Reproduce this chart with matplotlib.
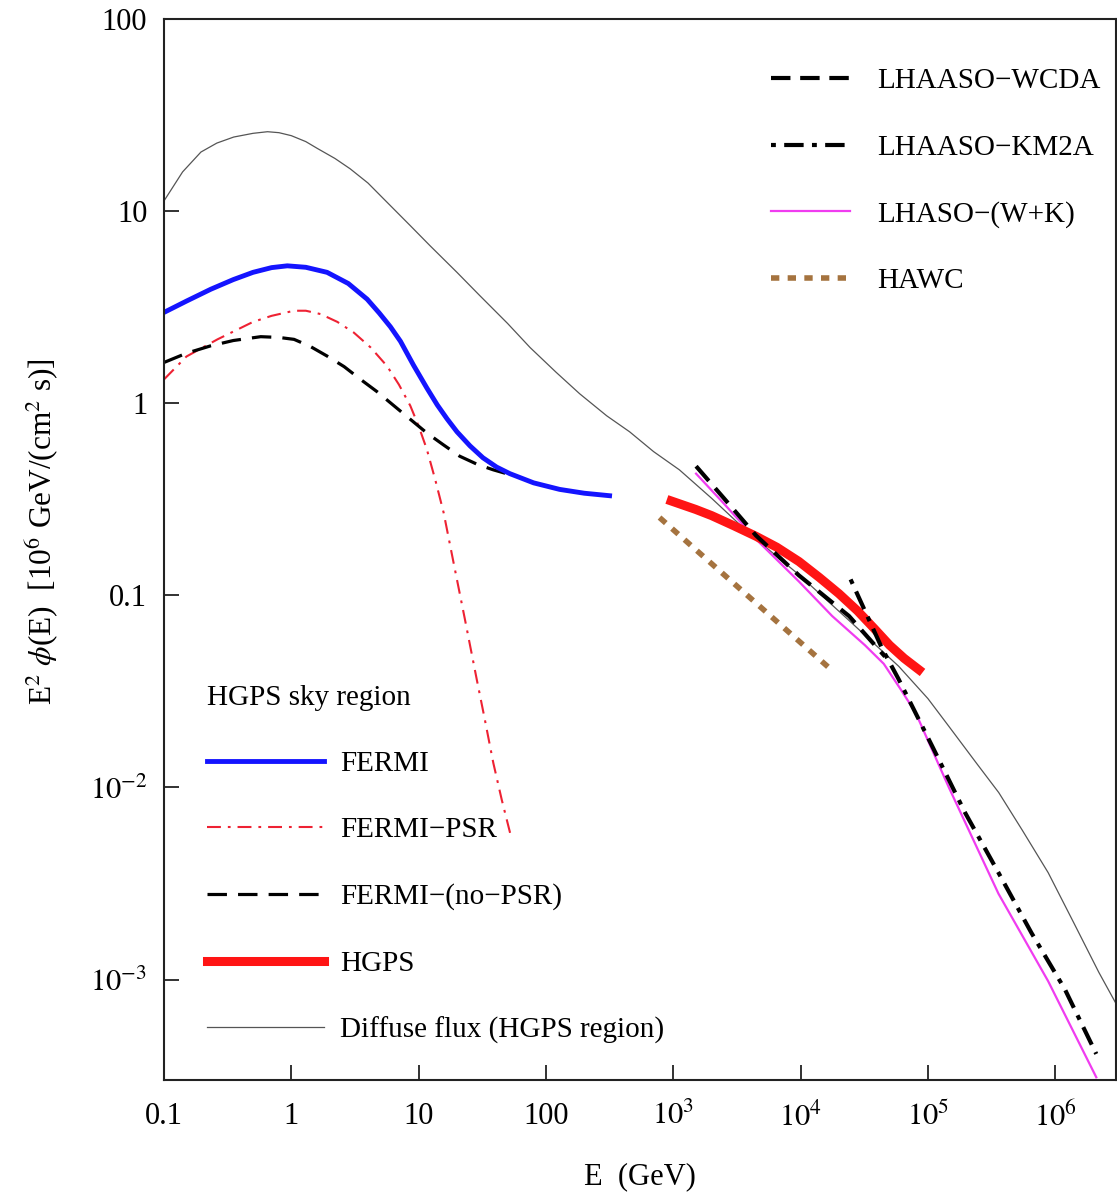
import matplotlib
matplotlib.use('Agg')
import matplotlib.pyplot as plt
from matplotlib.ticker import FixedLocator, FixedFormatter, NullLocator

plt.rcParams['font.family'] = ['Liberation Serif', 'DejaVu Serif']
plt.rcParams['mathtext.fontset'] = 'stix'
plt.rcParams['lines.scale_dashes'] = False

# ---------------- data (E in GeV, E^2 phi in 1e6 GeV/(cm^2 s)) ----------------
E_diffuse = [0.1, 0.14, 0.195, 0.26, 0.353, 0.5, 0.65, 0.8, 1.0, 1.3, 1.6, 2.2, 2.9,
             4.0, 5.3, 8.6, 12.3, 20, 30, 50, 75, 120, 184, 300, 454, 700, 1117,
             2000, 3950, 9700, 2.4e4, 5.9e4, 1.0e5, 1.46e5, 2.4e5, 3.6e5, 5.5e5,
             8.8e5, 1.4e6, 2.2e6, 3.0e6]
F_diffuse = [11.3, 16.0, 20.3, 22.6, 24.3, 25.4, 25.9, 25.6, 24.7, 23.0, 21.2, 18.8, 16.6,
             14.0, 11.6, 8.4, 6.6, 4.8, 3.65, 2.6, 1.95, 1.45, 1.12, 0.86, 0.71, 0.56, 0.45,
             0.32, 0.21, 0.128, 0.074, 0.0427, 0.029, 0.0208, 0.0134, 0.0094, 0.0060,
             0.0036, 0.00197, 0.00109, 0.00075]

E_fermi = [0.1, 0.15, 0.233, 0.35, 0.5, 0.7, 0.93, 1.3, 1.91, 2.8, 3.94, 4.9, 6.0, 7.2,
           9.1, 11.6, 14, 16.7, 20, 25.3, 32, 41, 52, 80, 128, 200, 316]
F_fermi = [2.97, 3.4, 3.92, 4.4, 4.8, 5.08, 5.19, 5.1, 4.8, 4.2, 3.48, 2.95, 2.5, 2.1,
           1.58, 1.2, 0.98, 0.83, 0.71, 0.60, 0.52, 0.465, 0.43, 0.385, 0.356, 0.34, 0.33]

E_psr = [0.1, 0.15, 0.263, 0.5, 0.7, 1.05, 1.3, 1.7, 2.3, 3.1, 4.2, 5.65, 7.0, 8.6, 10,
         11.6, 13.5, 15.7, 18.8, 23, 28.6, 33, 38.6, 45, 53.7]
F_psr = [1.33, 1.75, 2.15, 2.65, 2.85, 3.03, 3.03, 2.91, 2.65, 2.33, 1.95, 1.56, 1.25, 0.97,
         0.76, 0.575, 0.40, 0.27, 0.148, 0.076, 0.0365, 0.0228, 0.0134, 0.0086, 0.0054]

E_nopsr = [0.1, 0.15, 0.233, 0.35, 0.575, 0.8, 1.05, 1.4, 1.91, 2.6, 3.5, 4.7, 6.4, 8.5,
           11.6, 15.5, 21, 29, 38.6, 49]
F_nopsr = [1.63, 1.82, 1.99, 2.12, 2.22, 2.2, 2.15, 1.98, 1.76, 1.55, 1.33, 1.15, 0.97, 0.83,
           0.70, 0.61, 0.53, 0.48, 0.45, 0.43]

E_hgps = [962, 1500, 2000, 3000, 4460, 6500, 9700, 1.4e4, 2.0e4, 2.8e4, 3.8e4, 5.0e4,
          6.5e4, 8.5e4]
F_hgps = [0.31, 0.28, 0.26, 0.23, 0.203, 0.178, 0.150, 0.124, 0.102, 0.083, 0.067, 0.055,
          0.047, 0.041]

E_wcda = [1510, 2500, 4460, 9700, 2.4e4, 4.6e4]
F_wcda = [0.47, 0.32, 0.205, 0.127, 0.078, 0.048]

E_km2a = [2.47e4, 4.4e4, 5.9e4, 1.08e5, 1.96e5, 3.58e5, 6.5e5, 1.19e6, 2.1e6]
F_km2a = [0.121, 0.0523, 0.0365, 0.0164, 0.00738, 0.0036, 0.00175, 0.00089, 0.00041]

E_wk = [1510, 2500, 4460, 9700, 1.77e4, 3.2e4, 4.5e4, 6.0e4, 8.0e4, 1.46e5, 3.58e5, 8.8e5, 2.1e6]
F_wk = [0.43, 0.30, 0.196, 0.118, 0.078, 0.055, 0.044, 0.033, 0.0245, 0.0100, 0.0028, 0.00098, 0.00031]

E_hawc = [780, 1.67e4]
F_hawc = [0.254, 0.042]

x_ticks = [0.1, 1, 10, 100, 1e3, 1e4, 1e5, 1e6]
x_ticklabels = ['0.1', '1', '10', '100', r'$10^3$', r'$10^4$', r'$10^5$', r'$10^6$']
y_ticks = [1e-3, 1e-2, 0.1, 1, 10, 100]
y_ticklabels = [r'$10^{-3}$', r'$10^{-2}$', '0.1', '1', '10', '100']

# ---------------- figure ----------------
W, H = 1117, 1196
fig = plt.figure(figsize=(W / 100, H / 100), dpi=100)
ax = fig.add_axes([164 / W, 1 - 1080 / H, (1116 - 164) / W, (1080 - 19) / H])
ax.set_xscale('log')
ax.set_yscale('log')
ax.set_xlim(0.1, 3.0e6)
ax.set_ylim(3.0e-4, 100)

l_diff, = ax.plot(E_diffuse, F_diffuse, color='#555555', lw=0.9,
                  label='Diffuse flux (HGPS region)')
l_psr, = ax.plot(E_psr, F_psr, color='#ee2233', lw=1.5, ls=(0, (10, 5, 2, 5)),
                 label='FERMI\u2212PSR')
l_nopsr, = ax.plot(E_nopsr, F_nopsr, color='black', lw=2.3, ls=(0, (14, 8)),
                   label='FERMI\u2212(no\u2212PSR)')
l_fermi, = ax.plot(E_fermi, F_fermi, color='#1414ff', lw=3.5, label='FERMI')
l_hawc, = ax.plot(E_hawc, F_hawc, color='#a5733f', lw=4, ls=(0, (6, 6)), label='HAWC')
l_wk, = ax.plot(E_wk, F_wk, color='#f03cf0', lw=1.6, label='LHASO\u2212(W+K)')
l_hgps, = ax.plot(E_hgps, F_hgps, color='#ff1414', lw=6.5, label='HGPS')
l_wcda, = ax.plot(E_wcda, F_wcda, color='black', lw=3, ls=(0, (14, 7)),
                  label='LHAASO\u2212WCDA')
l_km2a, = ax.plot(E_km2a, F_km2a, color='black', lw=3, ls=(0, (3.5, 6, 14, 6)),
                  label='LHAASO\u2212KM2A')

ax.xaxis.set_major_locator(FixedLocator(x_ticks))
ax.xaxis.set_major_formatter(FixedFormatter(x_ticklabels))
ax.yaxis.set_major_locator(FixedLocator(y_ticks))
ax.yaxis.set_major_formatter(FixedFormatter(y_ticklabels))
ax.xaxis.set_minor_locator(NullLocator())
ax.yaxis.set_minor_locator(NullLocator())
ax.tick_params(axis='both', which='major', direction='in', length=11, width=1.3,
               labelsize=22, color='#222222')
ax.tick_params(axis='x', pad=16)
ax.tick_params(axis='y', pad=12)
for s in ax.spines.values():
    s.set_linewidth(1.5)
    s.set_color('#222222')

ax.set_xlabel('E  (GeV)', fontsize=22)
ax.xaxis.set_label_coords(0.5, (1080 - 1162) / 1061)
ax.set_ylabel(r'E$^2$ $\phi$(E)  [10$^6$ GeV/(cm$^2$ s)]', fontsize=22.5)
ax.yaxis.set_label_coords((61 - 164) / 952, (1080 - 532) / 1061)

leg1 = ax.legend(handles=[l_wcda, l_km2a, l_wk, l_hawc], loc='upper left',
                 bbox_to_anchor=(771 / W, 1 - 68 / H), bbox_transform=fig.transFigure,
                 frameon=False, fontsize=21, handlelength=2.7, handletextpad=0.95,
                 labelspacing=1.37, borderpad=0, borderaxespad=0)
ax.add_artist(leg1)
leg2 = ax.legend(handles=[l_fermi, l_psr, l_nopsr, l_hgps, l_diff], loc='lower left',
                 bbox_to_anchor=(207 / W, 1 - 1044 / H), bbox_transform=fig.transFigure,
                 frameon=False, fontsize=21, title='HGPS sky region', title_fontsize=21,
                 alignment='left', handlelength=4.0, handletextpad=0.55,
                 labelspacing=1.37, borderpad=0, borderaxespad=0)

fig.savefig('out.png', dpi=100)
